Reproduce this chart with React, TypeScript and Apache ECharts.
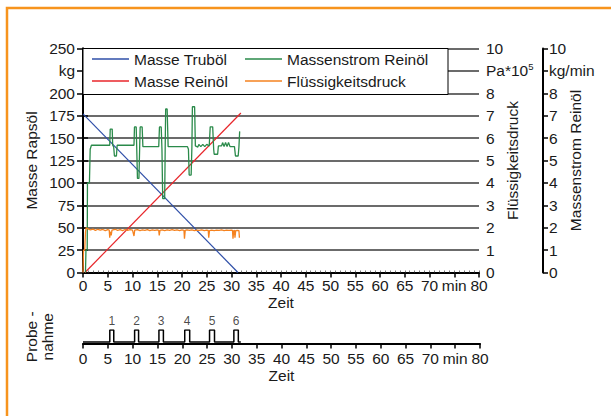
import React, { useEffect, useRef } from "react";
import * as echarts from "echarts";

// ---- data ----
const zeitTicks = [0, 5, 10, 15, 20, 25, 30, 35, 40, 45, 50, 55, 60, 65, 70, 75, 80];

const truboelZeit = [0, 31.3];
const truboelMasse = [177, 0];

const reinoelZeit = [0.4, 31.9];
const reinoelMasse = [0, 178];

const massenstromZeit = [
  0.5, 0.6, 0.85, 0.9, 1.3, 1.45, 1.7, 5.4, 5.5, 5.9, 6.0, 6.2, 6.35, 6.75, 6.9,
  10.3, 10.4, 10.75, 10.85, 11.0, 11.3, 11.45, 11.55, 11.95, 12.1, 15.3, 15.45,
  15.8, 15.95, 16.1, 16.5, 16.6, 16.7, 17.0, 17.2, 21.1, 21.3, 21.45, 21.85, 22.0,
  22.1, 22.55, 22.7, 23.2, 23.4, 23.8, 24.2, 24.6, 25.0, 25.5, 25.7, 26.2, 26.4,
  26.5, 27.2, 27.35, 28.0, 28.2, 28.5, 28.8, 29.1, 29.4, 29.7, 30.6, 30.8, 31.35,
  31.5, 31.65,
];
const massenstromWert = [
  0, 1.0, 1.0, 4.0, 4.0, 5.5, 5.68, 5.68, 6.4, 6.4, 5.68, 5.6, 5.2, 5.2, 5.68,
  5.68, 6.5, 6.5, 5.6, 4.2, 4.2, 5.6, 6.5, 6.5, 5.62, 5.62, 6.5,
  6.5, 5.5, 3.3, 3.3, 5.5, 7.3, 7.3, 5.62, 5.62, 5.5, 4.35, 4.35, 5.6,
  7.4, 7.4, 5.65, 5.6, 5.72, 5.62, 5.72, 5.62, 5.72, 5.65, 6.5, 6.5, 5.5,
  5.28, 5.28, 5.65, 5.65, 5.8, 5.62, 5.8, 5.62, 5.8, 5.62, 5.62, 5.2, 5.2,
  5.6, 6.3,
];

const druckZeit = [
  0, 0.1, 0.35, 0.5, 0.65, 1.0, 1.5, 2.0, 2.5, 3.0, 3.5, 4.0, 4.5, 5.0, 5.3, 5.4,
  5.5, 5.7, 5.85, 6.5, 7.0, 7.5, 8.0, 8.5, 9.0, 9.5, 10.0, 10.3, 10.45, 11.0,
  11.5, 12.0, 12.5, 13.0, 13.5, 14.0, 14.5, 15.0, 15.3, 15.4, 15.55, 16.0, 16.5,
  17.0, 17.5, 18.0, 18.5, 19.0, 19.5, 20.0, 20.4, 20.5, 20.65, 21.0, 21.5, 22.0,
  22.5, 23.0, 23.5, 24.0, 24.5, 25.0, 25.3, 25.4, 25.55, 26.0, 26.5, 27.0, 27.5,
  28.0, 28.5, 29.0, 29.5, 30.0, 30.2, 30.3, 30.45, 30.6, 30.7, 30.85, 31.2, 31.5,
  31.6,
];
const druckWert = [
  0, 1.0, 1.0, 1.8, 2.0, 1.95, 1.9, 1.94, 1.88, 1.93, 1.89, 1.92, 1.87, 1.91, 1.89, 1.55,
  1.82, 1.66, 1.89, 1.93, 1.88, 1.91, 1.87, 1.92, 1.88, 1.91, 1.89, 1.63, 1.89, 1.91,
  1.87, 1.9, 1.88, 1.91, 1.87, 1.9, 1.88, 1.9, 1.88, 1.66, 1.88, 1.9, 1.87,
  1.9, 1.88, 1.91, 1.88, 1.9, 1.87, 1.9, 1.88, 1.51, 1.88, 1.9, 1.88, 1.9,
  1.87, 1.89, 1.88, 1.9, 1.87, 1.89, 1.88, 1.55, 1.87, 1.89, 1.87, 1.89, 1.88,
  1.9, 1.87, 1.89, 1.88, 1.89, 1.88, 1.51, 1.86, 1.88, 1.55, 1.87, 1.88, 1.87,
  1.55,
];

const probeNummer = [1, 2, 3, 4, 5, 6];
const probeStart = [5.4, 10.4, 15.3, 20.5, 25.5, 30.4];
const probeEnde = [6.2, 11.2, 16.2, 21.5, 26.5, 31.3];
const probeEndeLinie = 31.8;

const pair = (xs: number[], ys: number[]) => xs.map((x, i) => [x, ys[i]]);

export default function App() {
  const ref = useRef<HTMLDivElement>(null);

  useEffect(() => {
    if (!ref.current) return;
    const chart = echarts.init(ref.current, undefined, { renderer: "svg" });

    const BASE = 0.12;
    const probeLinie: number[][] = [[0, BASE]];
    probeStart.forEach((s, i) => {
      probeLinie.push([s, BASE], [s, 1], [probeEnde[i], 1], [probeEnde[i], BASE]);
    });
    probeLinie.push([probeEndeLinie, BASE]);
    const probeLabels = probeNummer.map((n, i) => ({
      value: [(probeStart[i] + probeEnde[i]) / 2, 1],
      name: String(n),
    }));

    const txt = "#1a1a1a";
    const FS = 15.5;
    const font = "'Liberation Sans', Arial, Helvetica, sans-serif";
    const axisLine = { show: true, lineStyle: { color: "#000", width: 2 } };
    const xLabel = {
      fontSize: FS,
      color: txt,
      margin: 5,
      lineHeight: 16,
      formatter: (v: number) => (v === 75 ? "min" : String(v)),
    };
    const legendBase = {
      top: 46,
      padding: 5,
      orient: "vertical",
      icon: "rect",
      itemWidth: 37,
      itemHeight: 1.4,
      itemGap: 6,
      z: 5,
      textStyle: { fontSize: FS, color: txt, lineHeight: 16 },
    };

    const option: any = {
      animation: false,
      textStyle: { fontFamily: font },
      graphic: [
        {
          type: "rect",
          shape: { x: 7, y: 8, width: 640, height: 440 },
          style: { fill: "none", stroke: "#F7941D", lineWidth: 2.5 },
          z: 0,
          silent: true,
        },
        {
          type: "rect",
          shape: { x: 83, y: 48.5, width: 365, height: 46 },
          style: { fill: "#fff", stroke: "#000", lineWidth: 1 },
          z: 3,
          silent: true,
        },
      ],
      legend: [
        { ...legendBase, left: 87, data: ["Masse Truböl", "Masse Reinöl"] },
        { ...legendBase, left: 240, data: ["Massenstrom Reinöl", "Flüssigkeitsdruck"] },
      ],
      grid: [
        { left: 83, right: 132, top: 48.5, height: 224 },
        { left: 83, right: 131, top: 330, height: 13.5 },
      ],
      xAxis: [
        {
          gridIndex: 0,
          type: "value",
          min: zeitTicks[0],
          max: zeitTicks[zeitTicks.length - 1],
          interval: 5,
          axisLine,
          axisTick: { show: true, length: 5, lineStyle: { color: "#000", width: 1.5 } },
          axisLabel: xLabel,
          splitLine: { show: false },
          name: "Zeit",
          nameLocation: "middle",
          nameGap: 22,
          nameMoveOverlap: false,
          nameTextStyle: { fontSize: FS, color: txt, lineHeight: 16 },
        },
        {
          gridIndex: 0,
          type: "value",
          position: "top",
          min: 0,
          max: 80,
          interval: 1,
          axisLine: { show: true, lineStyle: { color: "#000", width: 1.5 } },
          axisTick: { show: true, length: 2, lineStyle: { color: "#555", width: 0.8 } },
          axisLabel: { show: false },
          splitLine: { show: false },
        },
        {
          gridIndex: 1,
          type: "value",
          min: 0,
          max: 80,
          interval: 5,
          axisLine,
          axisTick: { show: true, length: 5, lineStyle: { color: "#000", width: 1.5 } },
          axisLabel: { ...xLabel, margin: 7 },
          splitLine: { show: false },
          name: "Zeit",
          nameLocation: "middle",
          nameGap: 24,
          nameMoveOverlap: false,
          nameTextStyle: { fontSize: FS, color: txt, lineHeight: 16 },
        },
      ],
      yAxis: [
        {
          gridIndex: 0,
          type: "value",
          min: 0,
          max: 250,
          interval: 25,
          axisLine,
          axisTick: { show: true, length: 6, lineStyle: { color: "#000", width: 1.5 } },
          axisLabel: {
            fontSize: FS,
            color: txt,
            margin: 8,
            formatter: (v: number) => (v === 225 ? "kg" : String(v)),
          },
          splitLine: { show: true, lineStyle: { color: "#3a3a3a", width: 1.5 } },
          name: "Masse Rapsöl",
          nameLocation: "middle",
          nameRotate: 90,
          nameGap: 44,
          nameMoveOverlap: false,
          nameTextStyle: { fontSize: FS, color: txt },
        },
        {
          gridIndex: 0,
          type: "value",
          position: "right",
          min: 0,
          max: 10,
          interval: 1,
          axisLine,
          axisTick: { show: true, length: 5, lineStyle: { color: "#000", width: 1.5 } },
          axisLabel: {
            fontSize: FS,
            color: txt,
            margin: 7,
            formatter: (v: number) => (v === 9 ? "{u|Pa*10}{s|5}" : String(v)),
            rich: {
              u: { fontSize: FS, color: txt },
              s: { fontSize: 9.5, color: txt, verticalAlign: "top", padding: [0, 0, 8, 0] },
            },
          },
          splitLine: { show: false },
          name: "Flüssigkeitsdruck",
          nameLocation: "middle",
          nameRotate: 90,
          nameGap: 25,
          nameMoveOverlap: false,
          nameTextStyle: { fontSize: FS, color: txt },
        },
        {
          gridIndex: 0,
          type: "value",
          position: "right",
          offset: 64,
          min: 0,
          max: 10,
          interval: 1,
          axisLine,
          axisTick: { show: true, length: 5, lineStyle: { color: "#000", width: 1.5 } },
          axisLabel: {
            fontSize: FS,
            color: txt,
            margin: 6,
            formatter: (v: number) => (v === 9 ? "kg/min" : String(v)),
          },
          splitLine: { show: false },
          name: "Massenstrom Reinöl",
          nameLocation: "middle",
          nameRotate: 90,
          nameGap: 24,
          nameMoveOverlap: false,
          nameTextStyle: { fontSize: FS, color: txt },
        },
        {
          gridIndex: 1,
          type: "value",
          min: 0,
          max: 1,
          axisLine: { show: false },
          axisTick: { show: false },
          axisLabel: { show: false },
          splitLine: { show: false },
          name: "Probe -\nnahme",
          nameLocation: "middle",
          nameRotate: 90,
          nameGap: 28,
          nameMoveOverlap: false,
          nameTextStyle: { fontSize: FS, color: txt, lineHeight: 16 },
        },
      ],
      series: [
        {
          name: "Masse Truböl",
          type: "line",
          xAxisIndex: 0,
          yAxisIndex: 0,
          symbol: "none",
          color: "#2F4FA8",
          lineStyle: { width: 1.2 },
          data: pair(truboelZeit, truboelMasse),
        },
        {
          name: "Masse Reinöl",
          type: "line",
          xAxisIndex: 0,
          yAxisIndex: 0,
          symbol: "none",
          color: "#E8262B",
          lineStyle: { width: 1.2 },
          data: pair(reinoelZeit, reinoelMasse),
        },
        {
          name: "Massenstrom Reinöl",
          type: "line",
          xAxisIndex: 0,
          yAxisIndex: 2,
          symbol: "none",
          color: "#2A8A4A",
          lineStyle: { width: 1.3 },
          data: pair(massenstromZeit, massenstromWert),
        },
        {
          name: "Flüssigkeitsdruck",
          type: "line",
          xAxisIndex: 0,
          yAxisIndex: 1,
          symbol: "none",
          color: "#F5821F",
          lineStyle: { width: 1.3 },
          data: pair(druckZeit, druckWert),
        },
        {
          name: "Probenahme",
          type: "line",
          xAxisIndex: 2,
          yAxisIndex: 3,
          symbol: "none",
          color: "#000",
          lineStyle: { width: 1.5 },
          data: probeLinie,
        },
        {
          name: "Probennummer",
          type: "scatter",
          xAxisIndex: 2,
          yAxisIndex: 3,
          symbolSize: 0,
          label: {
            show: true,
            position: "top",
            distance: 3,
            fontSize: 12,
            color: txt,
            formatter: (p: any) => p.name,
          },
          data: probeLabels,
        },
      ],
    };

    chart.setOption(option);
    return () => chart.dispose();
  }, []);

  return (
    <div
      ref={ref}
      style={{ position: "fixed", left: 0, top: 0, width: 611, height: 416, background: "#fff" }}
    />
  );
}
